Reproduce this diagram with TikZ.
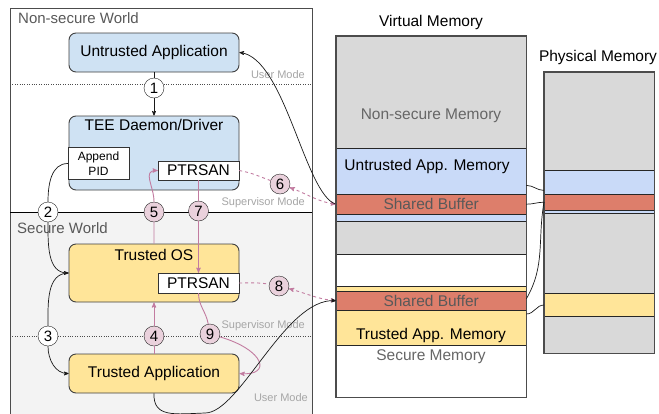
\documentclass[tikz,border=0pt]{standalone}
\usepackage{fontspec}
\setmainfont{Liberation Sans}
\usepackage{tikz}
\usetikzlibrary{arrows,shapes}

\definecolor{appblue}{HTML}{CFE2F3}
\definecolor{appyellow}{HTML}{FFE599}
\definecolor{memgray}{HTML}{D9D9D9}
\definecolor{memblue}{HTML}{C9DAF8}
\definecolor{memred}{HTML}{DD7E6B}
\definecolor{secgray}{HTML}{F3F3F3}
\definecolor{sanpink}{HTML}{C27BA0}
\definecolor{numpink}{HTML}{EAD1DC}

\begin{document}
\begin{tikzpicture}[x=1pt,y=-1pt,>=stealth',font=\fontsize{15.5}{18}\selectfont]
  \tikzstyle{box}=[rectangle,rounded corners=7pt,draw=black!75,line width=0.9pt,
                   minimum width=170pt,inner sep=0pt]
  \tikzstyle{blue box}=[box,fill=appblue]
  \tikzstyle{yellow box}=[box,fill=appyellow]
  \tikzstyle{inner box}=[rectangle,draw=black!80,fill=white,inner sep=0pt]
  \tikzstyle{num}=[circle,draw=black!85,fill=white,minimum size=20pt,inner sep=0pt,
                   font=\fontsize{15}{15}\selectfont]
  \tikzstyle{pink num}=[num,fill=numpink]
  \tikzstyle{flow}=[draw=black!90,line width=0.7pt]
  \tikzstyle{pink flow}=[draw=sanpink,line width=0.9pt]
  \tikzstyle{mode}=[text=black!35,font=\fontsize{11}{12}\selectfont,anchor=east,inner sep=0pt]
  \tikzstyle{world}=[text=black!65,font=\fontsize{15}{16}\selectfont,anchor=west,inner sep=0pt]
  \tikzstyle{seg}=[rectangle,draw=black!85,anchor=north west,inner sep=0pt]

  \useasboundingbox (0,0) rectangle (659,413);

  % the two worlds
  \draw[black!70,fill=white] (10,8) rectangle (312,212);
  \draw[black!70,fill=secgray] (10,212) rectangle (312,416);
  \draw[black] (10,212) -- (312,212);
  \draw[black!70,dotted] (10,84) -- (312,84);
  \draw[black!70,dotted] (10,336) -- (312,336);
  \node[world] (nsw) at (18,18) {Non-secure World};
  \node[world] (sw) at (17,228) {Secure World};
  \node[mode] (um1) at (305,75) {User Mode};
  \node[mode] (sm1) at (305,203) {Supervisor Mode};
  \node[mode] (sm2) at (305,326) {Supervisor Mode};
  \node[mode] (um2) at (308,398) {User Mode};

  % virtual memory
  \node (vmtitle) at (431,22) {Virtual Memory};
  \node[seg,fill=memgray,minimum width=190pt,minimum height=112pt] (vns) at (336,36) {};
  \node[seg,fill=memblue,minimum width=190pt,minimum height=46pt] (vuam) at (336,148) {};
  \node[seg,fill=memred,minimum width=190pt,minimum height=20pt,text=black!65] (sb1) at (336,194) {Shared Buffer};
  \node[seg,fill=memblue,minimum width=190pt,minimum height=7pt] (vblue) at (336,214) {};
  \node[seg,fill=memgray,minimum width=190pt,minimum height=33pt] (vgray) at (336,221) {};
  \node[seg,fill=white,minimum width=190pt,minimum height=32pt] (vwhite) at (336,254) {};
  \node[seg,fill=appyellow,minimum width=190pt,minimum height=5pt] (vyel) at (336,286) {};
  \node[seg,fill=memred,minimum width=190pt,minimum height=19pt,text=black!65] (sb2) at (336,291) {Shared Buffer};
  \node[seg,fill=appyellow,minimum width=190pt,minimum height=35pt] (vtam) at (336,310) {};
  \node[seg,fill=white,minimum width=190pt,minimum height=52pt] (vsec) at (336,345) {};
  \draw[black!70,line width=1.1pt] (vns.north west) rectangle (vsec.south east);
  \node[text=black!60] (nsmtxt) at (431,116) {Non-secure Memory};
  \node (uamtxt) at (427,166) {Untrusted App. Memory};
  \node (tamtxt) at (431,335) {Trusted App. Memory};
  \node[text=black!60] (smtxt) at (431,357) {Secure Memory};

  % physical memory
  \node (pmtitle) at (598,57) {Physical Memory};
  \node[seg,fill=memgray,minimum width=110pt,minimum height=98pt] (p1) at (544,72) {};
  \node[seg,fill=memblue,minimum width=110pt,minimum height=24pt] (pblue) at (544,170) {};
  \node[seg,fill=memred,minimum width=110pt,minimum height=16pt] (pred) at (544,194) {};
  \node[seg,fill=memblue,minimum width=110pt,minimum height=3pt] (pblue2) at (544,210) {};
  \node[seg,fill=memgray,minimum width=110pt,minimum height=80pt] (p2) at (544,213) {};
  \node[seg,fill=appyellow,minimum width=110pt,minimum height=23pt] (pyel) at (544,293) {};
  \node[seg,fill=memgray,minimum width=110pt,minimum height=37pt] (p3) at (544,316) {};
  \draw[black!70,line width=1.1pt] (p1.north west) rectangle (p3.south east);

  \draw[flow] ([yshift=9pt]vuam.south east) to[out=0,in=180] ([yshift=4pt]pblue.south west);
  \draw[flow] (sb1.east) to[out=0,in=180] (pred.west);
  \draw[flow] ([yshift=2pt]sb2.east) to[out=60,in=-100] (pred.west);
  \draw[flow] ([yshift=-4pt]vtam.north east) to[out=0,in=180] ([yshift=-12pt]pyel.north west);

  % software stack
  \node[blue box,minimum height=39pt] (uapp) at (154,52.5) {Untrusted Application};
  \node[blue box,minimum height=74pt,
        label={[anchor=north,inner sep=0pt,yshift=-4pt]north:TEE Daemon/Driver}] (tee) at (154,153) {};
  \node[inner box,minimum width=61pt,minimum height=32pt,align=center,
        font=\fontsize{12}{15}\selectfont] (apid) at (98.5,163.5) {Append\\PID};
  \node[inner box,minimum width=81pt,minimum height=19pt] (ptr1) at (198.5,170.5) {PTRSAN};
  \node[yellow box,minimum height=58pt,
        label={[anchor=north,inner sep=0pt,yshift=-6pt]north:Trusted OS}] (tos) at (154,273) {};
  \node[inner box,minimum width=81pt,minimum height=20pt] (ptr2) at (198.5,283) {PTRSAN};
  \node[yellow box,minimum height=39pt] (ta) at (154,373.5) {Trusted Application};

  % steps
  \node[num] (n1) at (154,88) {1};
  \node[num] (n2) at (48,212) {2};
  \node[num] (n3) at (48,336) {3};
  \node[pink num] (n4) at (154,336) {4};
  \node[pink num] (n5) at (154,212) {5};
  \node[pink num] (n6) at (280,184) {6};
  \node[pink num] (n7) at (198.5,211) {7};
  \node[pink num] (n8) at (279,286) {8};
  \node[pink num] (n9) at (210,334) {9};

  \draw[flow,->] (uapp) -- (n1) -- (tee);
  \draw[flow,->] (apid.west) to[out=180,in=90] (n2) to[out=-90,in=180] (tos.west);
  \draw[flow,->] (tos.west) to[out=180,in=90] (n3) to[out=-90,in=180] (ta.west);
  \draw[pink flow,->] (ta.north) -- (n4) -- (tos.south);
  \draw[pink flow,->] (tos.north) -- (n5) to[out=90,in=180,looseness=1.3] (ptr1.west);
  \draw[pink flow,->] (ptr1.south) -- (n7) -- (ptr2.north);
  \draw[pink flow,->] (ptr2.south) to[out=-90,in=100] (n9)
    .. controls (265,350) and (272,376) .. (ta.east);
  \draw[pink flow,dashed,<->] (ptr1.east) to[out=-10,in=160] (n6) to[out=-20,in=172] (sb1.west);
  \draw[pink flow,dashed,<->] (ptr2.east) to[out=0,in=170] (n8) to[out=-15,in=175] (sb2.west);
  \draw[flow,->] (sb1.west) .. controls (305,195) and (285,58) .. (uapp.east);
  \draw[flow,->] (ta.south) .. controls (153,418) and (175,414) .. (205,413)
    .. controls (240,413) and (285,298) .. (sb2.west);
\end{tikzpicture}
\end{document}
